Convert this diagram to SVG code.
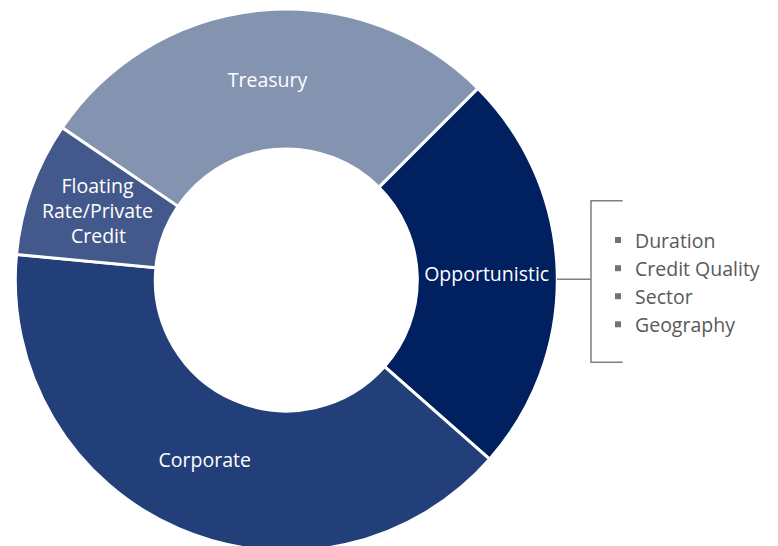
<svg xmlns="http://www.w3.org/2000/svg" width="778" height="546" viewBox="0 0 778 546">
<style>
.seg{stroke:#FFFFFF;stroke-width:3;stroke-linejoin:miter}
.lbl{font-family:"Open Sans","Liberation Sans",sans-serif;font-size:19.5px;fill:#FFFFFF;text-anchor:middle}
.item{font-family:"Open Sans","Liberation Sans",sans-serif;font-size:19.5px;fill:#595959}
.bul{fill:#737373}
.br{fill:none;stroke:#7F7F7F;stroke-width:1.5}
</style>
<rect width="778" height="546" fill="#FFFFFF"/>
<g id="treasury">
<path class="seg" fill="#8494B0" d="M 62.16 127.68 A 271 271 0 0 1 477.93 88.37 L 378.93 187.37 A 131 131 0 0 0 177.95 206.37 Z"/>
<text class="lbl" x="267.5" y="86.5">Treasury</text>
</g>
<g id="opportunistic">
<path class="seg" fill="#002060" d="M 477.93 88.37 A 271 271 0 0 1 489.58 459.22 L 384.56 366.63 A 131 131 0 0 0 378.93 187.37 Z"/>
<text class="lbl" x="486.7" y="281">Opportunistic</text>
</g>
<g id="corporate">
<path class="seg" fill="#233F7A" d="M 489.58 459.22 A 271 271 0 0 1 16.50 254.50 L 155.88 267.67 A 131 131 0 0 0 384.56 366.63 Z"/>
<text class="lbl" x="204.7" y="466.5">Corporate</text>
</g>
<g id="floating">
<path class="seg" fill="#44598B" d="M 16.50 254.50 A 271 271 0 0 1 62.16 127.68 L 177.95 206.37 A 131 131 0 0 0 155.88 267.67 Z"/>
<text class="lbl" x="97.5" y="192.5">Floating</text>
<text class="lbl" x="97.5" y="217.8">Rate/Private</text>
<text class="lbl" x="98.5" y="243">Credit</text>
</g>
<g id="connectors">
<path class="br" d="M 557 279.3 H 591"/>
<path class="br" d="M 622.7 200.7 H 591 V 362.3 H 622.7"/>
</g>
<g id="factors">
<rect class="bul" x="615" y="237" width="6" height="6"/>
<text class="item" x="635" y="247.5">Duration</text>
<rect class="bul" x="615" y="265.2" width="6" height="6"/>
<text class="item" x="635" y="275.7">Credit Quality</text>
<rect class="bul" x="615" y="293.2" width="6" height="6"/>
<text class="item" x="635" y="303.7">Sector</text>
<rect class="bul" x="615" y="321.3" width="6" height="6"/>
<text class="item" x="635" y="331.8">Geography</text>
</g>
</svg>
